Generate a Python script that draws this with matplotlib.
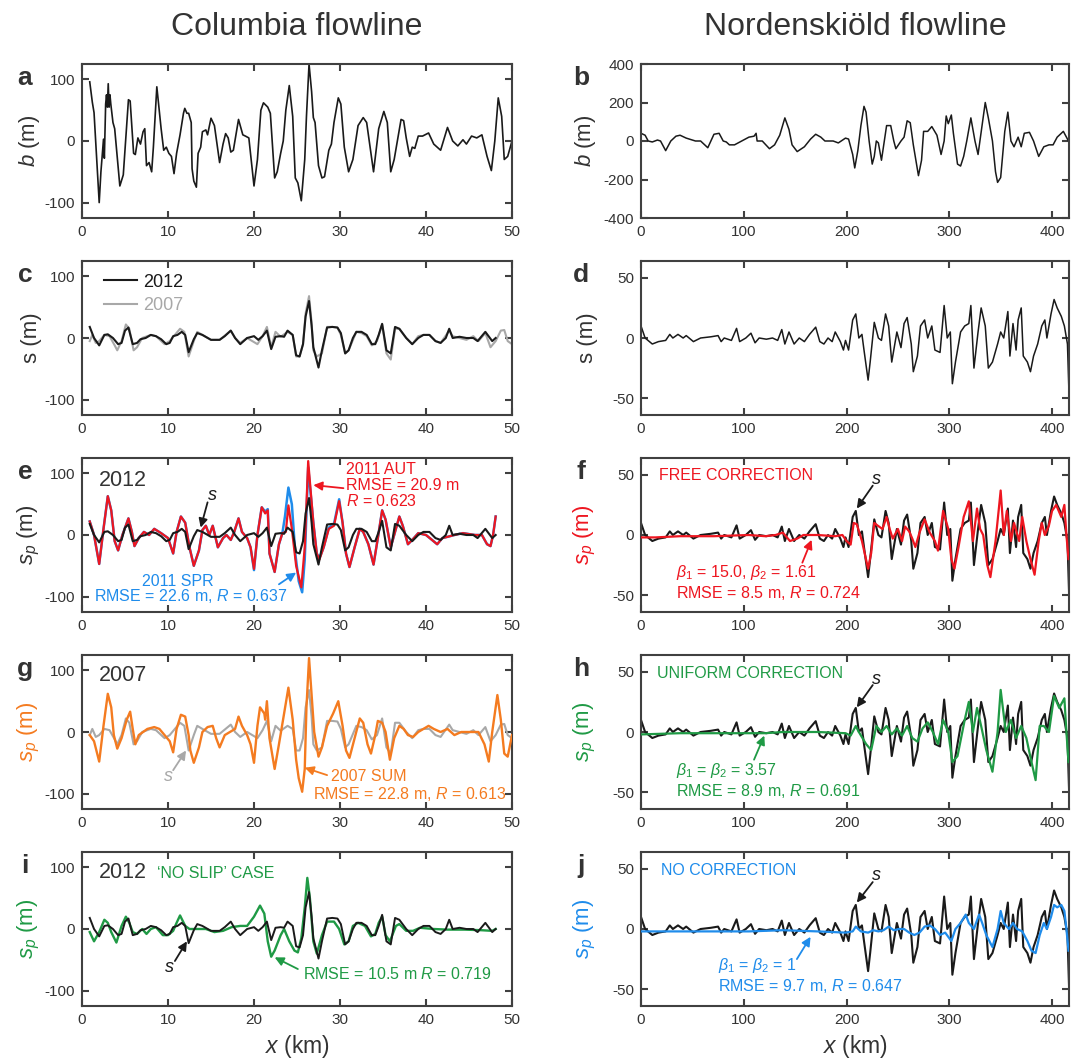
import numpy as np
import matplotlib
matplotlib.use("Agg")
import matplotlib.pyplot as plt

plt.rcParams["font.family"] = ["Liberation Sans", "DejaVu Sans"]
plt.rcParams["mathtext.fontset"] = "custom"
plt.rcParams["mathtext.rm"] = "Liberation Sans"
plt.rcParams["mathtext.it"] = "Liberation Sans:italic"
plt.rcParams["axes.unicode_minus"] = False

# ---- Columbia flowline (x in km) ----
col_bed = [(0.9, 96), (1.2, 63), (1.4, 46), (2.0, -100), (2.2, -50), (2.5, 3), (2.6, -28),
           (2.75, 60), (2.85, 75), (2.95, 55), (3.05, 93), (3.15, 55), (3.25, 75), (3.35, 60),
           (3.6, 30), (3.8, 20), (4.4, -73), (4.8, -55), (5.4, 67), (5.6, 65), (6.0, -20),
           (6.2, -22), (6.5, 5), (6.8, -5), (7.1, 15), (7.3, 20), (7.5, -40), (7.8, -35),
           (8.1, -50), (8.3, -10), (8.7, 88), (9.2, 20), (9.5, -15), (9.8, -10), (10.1, -20),
           (10.4, -25), (10.7, -53), (11.0, -20), (11.4, 10), (11.8, 45), (11.95, 53), (12.2, 45),
           (12.4, 45), (12.7, 30), (12.8, -45), (13.0, -65), (13.3, -75), (13.5, -20), (13.8, -10),
           (14.0, 15), (14.4, 18), (14.6, 10), (15.0, 37), (15.4, 25), (16.0, -35), (16.4, -5),
           (16.7, 12), (17.0, 5), (17.3, -18), (17.6, -15), (18.2, 35), (18.4, 25), (18.7, 10),
           (19.0, 8), (19.4, 5), (20.0, -73), (20.4, -30), (20.8, 50), (21.1, 62), (21.6, 55),
           (21.9, 45), (22.4, -60), (22.7, -50), (23.1, -20), (23.4, 0), (23.7, 50), (24.1, 90),
           (24.5, 40), (24.8, -60), (25.1, -68), (25.5, -97), (25.9, -30), (26.1, 40), (26.4, 125),
           (26.7, 80), (26.9, 38), (27.1, 30), (27.5, -40), (27.9, -60), (28.2, -58), (28.7, -15),
           (29.0, -5), (29.3, 30), (29.8, 70), (30.1, 60), (30.5, -10), (31.0, -50), (31.5, -30),
           (32.1, 25), (32.7, 38), (33.1, 30), (33.9, -50), (34.5, 20), (35.1, 48), (35.5, 30),
           (35.9, -50), (36.3, -30), (37.1, 35), (37.4, 33), (37.7, 5), (38.1, -25), (38.4, -10),
           (38.7, -12), (39.1, 8), (39.6, 8), (40.3, 13), (40.9, -5), (41.7, -15), (42.5, 22),
           (43.1, 0), (43.7, -8), (44.3, 2), (44.7, -5), (45.3, 8), (45.9, 5), (46.5, 10),
           (47.1, -25), (47.6, -48), (48.0, 0), (48.4, 70), (48.8, 40), (49.1, -30), (49.5, -25),
           (50.0, 0)]

col_s2012 = [(0.9, 18), (1.4, 0), (2.0, -12), (2.6, 5), (3.0, 6), (3.6, 0), (4.2, -10), (4.6, -8),
             (5.0, 12), (5.4, 17), (5.9, -10), (6.4, -8), (6.8, -2), (7.4, 0), (8.0, 5), (8.6, 3),
             (9.2, -2), (9.8, -10), (10.2, -8), (10.6, 3), (11.1, 5), (11.6, 10), (12.0, 5),
             (12.4, -23), (13.0, -2), (13.4, 8), (14.0, 5), (15.0, -3), (16.0, -3), (16.6, 3),
             (17.3, 12), (17.8, 0), (18.4, -10), (19.2, 0), (20.0, 3), (20.5, -3), (21.0, 3),
             (21.5, 12), (22.0, -18), (22.5, 2), (23.1, 3), (23.5, 2), (23.9, 12), (24.5, 5),
             (24.9, -28), (25.3, -30), (25.7, -10), (26.0, 35), (26.4, 60), (26.7, 20), (26.9, -15),
             (27.5, -48), (27.9, -20), (28.5, 17), (29.1, 18), (29.7, 17), (30.1, 8), (30.6, -25),
             (31.0, -20), (31.5, 0), (31.9, 10), (32.5, 10), (33.1, 5), (33.7, -10), (34.1, -10),
             (34.5, 5), (34.9, 23), (35.4, -20), (35.9, -25), (36.4, 18), (36.9, 15), (37.7, 0),
             (38.4, -10), (39.1, 0), (39.7, 5), (40.4, 5), (41.1, -5), (41.7, -8), (42.3, 0),
             (42.7, 15), (43.1, 0), (43.9, 2), (44.7, 0), (45.5, 0), (46.0, -5), (46.9, 10),
             (47.7, -5), (48.1, 0)]

col_s2007 = [(0.9, -5), (1.2, 5), (1.6, -8), (2.0, -5), (2.6, 5), (3.2, 3), (3.8, -12), (4.1, -20),
             (4.6, -5), (5.1, 22), (5.5, 15), (6.0, -20), (6.4, -15), (7.0, 0), (8.0, 5), (8.6, 3),
             (9.6, -10), (10.2, -5), (10.8, 5), (11.4, 15), (11.9, 10), (12.4, -30), (13.0, -5),
             (13.4, 10), (14.0, 5), (15.0, -3), (16.0, -3), (17.3, 12), (17.8, 0), (18.4, -8),
             (19.2, 0), (19.8, -5), (20.4, -10), (21.0, 3), (21.5, 18), (22.0, -15), (22.5, 10),
             (23.1, 2), (23.9, 10), (24.5, 5), (24.9, -30), (25.3, -30), (25.7, -10), (26.0, 40),
             (26.4, 68), (26.7, 25), (26.9, -20), (27.3, -30), (27.9, -25), (28.5, 18), (29.1, 18),
             (29.7, 17), (30.1, 5), (30.6, -25), (31.0, -20), (31.9, 10), (32.5, 8), (33.1, 3),
             (33.7, -12), (34.3, -5), (34.9, 22), (35.4, -25), (35.9, -35), (36.4, 15), (36.9, 15),
             (37.7, 0), (38.4, -10), (39.1, 3), (39.7, 5), (40.4, 5), (41.1, -5), (41.7, -8),
             (42.7, 12), (43.1, 3), (43.9, 0), (44.7, -3), (45.5, 3), (46.1, -5), (46.9, 8),
             (47.5, -15), (48.1, -5), (48.7, 12), (49.1, 13), (49.5, -5), (50.0, -10)]

col_aut_2011 = [(0.9, 22), (1.4, 0), (2.0, -47), (2.5, 10), (3.0, 63), (3.4, 40), (3.8, -10),
                (4.2, -25), (4.7, 0), (5.4, 27), (5.8, 5), (6.1, -18), (6.6, -5), (7.2, 5),
                (7.8, 0), (8.4, 10), (9.2, 3), (10.0, -5), (10.6, -30), (11.0, 5), (11.5, 30),
                (12.0, 20), (12.5, -20), (13.0, -50), (13.6, -25), (14.0, 8), (14.4, 15),
                (14.8, 0), (15.2, 15), (15.8, -20), (16.4, -5), (16.8, 0), (17.3, -8), (17.7, 5),
                (18.2, 27), (18.6, 5), (19.2, -5), (19.6, -20), (20.0, -55), (20.4, 0), (20.9, 45),
                (21.3, 35), (21.6, 40), (21.8, -30), (22.4, -60), (22.9, -15), (23.3, 3),
                (23.7, 5), (24.0, 48), (24.4, 10), (24.9, -50), (25.5, -85), (25.9, -20),
                (26.3, 120), (26.9, 20), (27.3, -30), (27.6, -40), (28.1, -20), (28.7, 10),
                (29.3, 15), (29.9, 55), (30.3, 20), (30.7, -30), (31.1, -52), (31.7, -20),
                (32.3, 10), (32.7, 5), (33.3, -15), (33.9, -48), (34.4, -5), (34.9, 40),
                (35.3, 25), (35.9, -20), (36.3, 0), (36.9, 30), (37.3, 15), (37.9, -15),
                (38.4, -8), (39.1, 3), (40.0, 0), (40.7, -8), (41.3, -15), (41.9, -5), (42.5, -3),
                (43.3, 0), (44.3, 3), (45.7, 0), (46.5, 0), (47.1, -15), (47.5, -18), (47.8, 0),
                (48.1, 30)]

col_spr_2011 = [(0.9, 22), (1.4, 0), (2.0, -47), (2.5, 10), (3.0, 63), (3.4, 40), (3.8, -10),
                (4.2, -25), (4.7, 0), (5.4, 27), (5.8, 5), (6.1, -18), (6.6, -5), (7.2, 5),
                (7.8, 0), (8.4, 10), (9.2, 3), (10.0, -5), (10.6, -30), (11.0, 5), (11.5, 30),
                (12.0, 20), (12.5, -20), (13.0, -50), (13.6, -25), (14.0, 8), (14.4, 15),
                (14.8, 0), (15.2, 15), (15.8, -20), (16.4, -5), (16.8, 0), (17.3, -8), (17.7, 5),
                (18.2, 27), (18.6, 5), (19.2, -5), (19.6, -20), (20.0, -57), (20.4, 0), (20.9, 45),
                (21.3, 38), (21.6, 42), (21.8, -30), (22.4, -60), (22.9, -15), (23.3, 3),
                (23.6, 30), (24.0, 77), (24.4, 50), (24.8, -30), (25.2, -75), (25.6, -93),
                (25.9, -40), (26.3, 110), (26.9, 20), (27.3, -30), (27.6, -38), (28.1, -20),
                (28.7, 12), (29.3, 18), (29.9, 58), (30.3, 20), (30.7, -30), (31.1, -52),
                (31.7, -20), (32.3, 10), (32.7, 5), (33.3, -15), (33.9, -48), (34.4, -5),
                (34.9, 40), (35.3, 25), (35.9, -20), (36.3, 0), (36.9, 30), (37.3, 15),
                (37.9, -15), (38.4, -8), (39.1, 3), (40.0, 0), (40.7, -8), (41.3, -15),
                (41.9, -5), (42.5, -3), (43.3, 0), (44.3, 3), (45.7, 0), (46.5, 0), (47.1, -15),
                (47.5, -18), (47.8, 0), (48.1, 30)]

col_sum_2007 = [(0.9, -5), (1.4, -15), (2.0, -48), (2.5, 10), (3.0, 62), (3.4, 40), (3.7, -5),
                (4.1, -27), (4.6, -10), (5.2, 20), (5.6, 33), (5.9, 5), (6.2, -20), (6.6, -5),
                (7.1, 0), (7.6, 5), (8.4, 8), (9.0, 5), (9.6, -5), (10.2, -15), (10.6, -33),
                (11.0, 5), (11.5, 28), (12.0, 25), (12.4, -5), (12.6, -30), (13.0, -50),
                (13.6, -25), (14.0, 0), (14.6, 8), (15.2, 10), (15.6, -10), (16.0, -25),
                (16.6, -5), (17.2, 0), (17.8, 5), (18.2, 25), (18.6, 10), (19.2, -5), (19.6, -20),
                (20.0, -50), (20.4, 10), (20.7, 40), (21.2, 30), (21.3, 20), (21.5, 50),
                (21.8, -10), (22.4, -60), (22.9, -20), (23.5, 30), (24.0, 72), (24.5, 20),
                (24.9, -45), (25.2, -75), (25.6, -97), (25.9, -60), (26.1, 40), (26.4, 120),
                (26.7, 60), (27.0, 0), (27.5, -40), (27.9, -25), (28.5, 10), (29.2, 30),
                (29.8, 50), (30.3, 10), (30.7, -30), (31.1, -42), (31.7, -10), (32.3, 22),
                (32.7, 15), (33.2, -20), (33.6, -35), (34.1, -5), (34.4, 18), (34.9, 15),
                (35.3, 0), (35.8, -45), (36.3, -10), (36.9, 10), (37.4, 5), (37.9, -5),
                (38.5, -8), (39.1, 0), (40.3, 10), (40.9, 5), (41.7, 0), (42.5, 5), (43.3, -5),
                (44.1, 0), (45.3, 0), (46.1, 0), (46.8, -20), (47.3, -48), (47.7, 0), (48.3, 60),
                (48.7, 20), (49.1, -35), (49.5, -40), (50.0, -5)]

col_noslip = [(0.9, -5), (1.4, -20), (2.0, -5), (2.6, 15), (3.0, 10), (3.4, -5), (4.0, -22),
              (4.6, 5), (5.1, 20), (5.5, 10), (5.9, -5), (6.4, -8), (7.0, 0), (7.5, -8), (8.0, 0),
              (8.6, 3), (9.4, -10), (10.0, -10), (10.6, -3), (11.0, 10), (11.4, 22), (12.0, 5),
              (12.5, 0), (13.2, 0), (14.4, 0), (15.4, -5), (16.4, -3), (17.4, 3), (18.4, 5),
              (19.2, 5), (20.0, 20), (20.7, 38), (21.2, 25), (21.6, -20), (22.0, -45), (22.4, -35),
              (23.1, -10), (23.5, 0), (24.1, -20), (24.7, -35), (25.1, -38), (25.5, -15),
              (25.9, 35), (26.2, 83), (26.5, 50), (26.9, -20), (27.3, -40), (27.9, -10),
              (28.5, 12), (29.3, 12), (29.9, 0), (30.5, -25), (31.0, -20), (31.5, 5), (32.1, 10),
              (32.9, 5), (33.6, -12), (34.1, -8), (34.5, 10), (34.9, 20), (35.3, -10),
              (35.8, -20), (36.5, 5), (36.9, 8), (37.7, -3), (38.5, -3), (39.3, 2), (40.9, 0),
              (42.5, -1), (44.5, -1), (46.5, -2), (47.7, -3), (48.1, 0)]

# ---- Nordenskiold flowline (x in km) ----
nor_bed = [(0, 40), (4, 30), (7, 0), (11, -5), (16, 5), (19, 0), (24, -50), (29, 0), (34, 25),
           (38, 30), (44, 15), (53, 0), (58, 0), (65, -35), (71, 35), (76, 40), (80, 0), (83, -5),
           (86, -20), (91, -20), (98, 0), (105, 20), (110, 25), (112, 40), (113, 0), (118, 0),
           (125, -40), (130, -20), (135, 30), (140, 120), (144, 60), (147, -20), (152, -55),
           (159, -30), (165, 10), (170, 35), (175, 20), (179, 0), (187, 0), (192, -10), (199, 15),
           (202, 10), (206, -70), (208, -140), (211, -50), (214, 80), (217, 180), (219, 150),
           (222, 0), (225, -120), (227, -80), (229, 0), (231, -10), (234, -100), (239, 80),
           (243, 80), (246, 0), (248, -40), (253, 0), (256, 20), (259, 105), (262, 95),
           (265, -20), (270, -180), (273, -100), (275, 50), (279, 50), (283, 75), (288, 30),
           (292, -70), (295, 0), (297, 130), (299, 90), (302, 135), (304, 40), (308, -120),
           (311, -130), (314, -80), (317, 0), (321, 120), (325, 0), (328, -70), (335, 200),
           (338, 120), (342, 0), (345, -160), (347, -215), (350, -190), (354, 50), (357, 150),
           (360, 0), (363, -30), (367, 20), (370, -30), (373, 40), (378, 45), (382, 0),
           (387, -80), (392, -30), (397, -20), (401, -20), (405, 20), (411, 50), (416, 0)]

nor_s = [(0, 10), (4, 0), (11, -5), (17, -3), (24, -2), (28, 3), (31, 0), (36, 3), (41, 0),
         (44, 2), (51, -3), (58, 0), (68, 1), (75, 2), (78, -3), (81, 0), (88, -2), (93, 8),
         (96, -3), (102, 0), (107, 4), (111, -4), (115, 0), (122, -1), (128, 0), (133, -2),
         (137, 7), (140, -5), (144, 5), (149, -5), (154, 0), (159, -3), (164, 3), (170, 9),
         (174, -3), (178, -5), (182, 0), (186, -3), (189, 5), (194, -3), (197, -10), (199, -2),
         (202, -10), (206, 15), (209, 20), (212, 0), (215, 3), (217, -10), (221, -35), (223, -20),
         (227, 13), (231, 0), (234, -2), (238, 20), (241, 10), (244, -20), (249, 5), (253, -8),
         (256, 12), (259, 17), (263, -5), (265, -28), (269, -15), (272, 10), (276, 15), (279, 0),
         (283, 10), (286, -10), (291, -12), (295, 27), (298, 0), (301, 5), (303, -38), (306, -20),
         (311, 5), (315, 10), (319, 12), (321, 27), (324, -25), (328, 5), (331, 25), (335, 10),
         (338, -25), (342, -20), (347, -5), (350, 5), (353, 0), (357, 22), (359, -15), (362, 12),
         (365, -10), (367, 15), (370, 25), (372, -15), (376, -20), (379, -28), (382, -15),
         (386, -5), (390, 10), (393, 15), (395, 0), (399, 20), (402, 32), (405, 25), (409, 18),
         (412, 10), (415, -5), (417, -60)]

nor_free = [(0, -2), (14, -2), (38, -1), (71, -1), (105, 0), (121, -1), (131, 0), (138, 2),
            (145, -5), (152, -3), (158, 0), (172, 0), (189, -1), (196, 0), (200, -5), (204, -8),
            (207, 10), (210, 9), (215, -5), (221, -28), (224, -15), (227, 10), (230, 8), (235, 5),
            (239, 15), (242, 5), (245, -3), (250, 5), (254, -5), (257, 7), (261, 3), (264, -3),
            (267, -10), (271, 2), (276, 13), (281, 2), (286, -5), (289, -13), (294, 20), (299, 5),
            (302, -20), (305, -28), (309, -10), (314, 15), (319, 28), (323, -5), (327, 22),
            (330, 5), (333, 0), (337, -25), (340, -35), (345, -5), (348, 20), (350, 37), (353, 0),
            (356, 20), (360, -5), (363, 10), (368, -5), (371, 15), (375, -5), (379, -20),
            (383, -33), (387, -5), (390, 10), (393, 0), (397, 8), (400, 20), (404, 25), (409, 15),
            (412, 25), (414, 0), (416, -20)]

nor_uniform = [(0, -2), (38, -1), (105, -1), (121, -1), (138, 0), (172, 0), (199, -1), (204, -3),
               (209, 5), (212, 0), (219, -10), (224, -15), (229, 5), (234, 0), (239, 5), (244, -2),
               (249, 3), (254, -3), (259, 5), (264, -5), (269, -8), (274, 3), (279, 8), (284, 0),
               (289, -10), (294, 10), (299, 0), (303, -25), (308, -20), (315, 10), (319, 25),
               (323, 0), (327, 20), (331, 5), (336, -15), (342, -33), (347, 0), (350, 35),
               (355, 0), (360, 10), (365, -5), (370, 5), (375, -5), (380, -25), (384, -40),
               (388, 5), (392, 5), (397, 0), (402, 30), (407, 20), (412, 28), (414, 0), (416, -25)]

nor_none = [(0, -2), (38, -2), (105, -2), (138, -1), (172, -2), (199, -3), (206, -2), (209, 2),
            (214, -2), (221, -3), (226, -1), (231, -2), (236, -1), (241, 2), (246, -1), (251, 0),
            (256, 0), (261, -3), (266, -5), (271, -3), (276, 2), (281, 3), (286, 0), (291, -5),
            (296, -3), (302, -10), (306, 0), (311, 5), (316, 12), (319, 5), (324, 0), (329, 12),
            (332, 5), (336, -5), (342, -15), (347, 0), (350, 15), (353, 5), (358, 0), (362, 5),
            (366, 0), (371, -2), (376, -10), (380, -18), (384, -20), (388, -5), (392, 5),
            (395, 0), (399, 10), (402, 20), (405, 18), (409, 20), (412, 15), (414, 0), (416, -18)]

BLACK = "#1a1a1a"
GRAY = "#a8a8a8"
RED = "#ee1620"
BLUE = "#1f8ceb"
ORANGE = "#f47b20"
GREEN = "#1f9a45"
FRAME = "#404040"
TXT = "#333333"
ANN = 11.5  # annotation font size

W, H = 1082, 1061
fig = plt.figure(figsize=(W / 100, H / 100), dpi=100)

row_bottoms = [218, 415, 612, 809, 1006]
ax_h = 154


def make_ax(col, row):
    left, width = (82, 430) if col == 0 else (641, 428)
    b = row_bottoms[row]
    ax = fig.add_axes([left / W, 1 - b / H, width / W, ax_h / H])
    for sp in ax.spines.values():
        sp.set_color(FRAME)
        sp.set_linewidth(1.5)
    ax.tick_params(direction="in", length=5, width=1.5, color=FRAME, top=True, right=True,
                   labelsize=11, labelcolor=TXT, pad=5)
    if col == 0:
        ax.set_xlim(0, 50)
        ax.set_xticks([0, 10, 20, 30, 40, 50])
        ax.set_ylim(-125, 125)
        ax.set_yticks([-100, 0, 100])
        ax.yaxis.set_label_coords(-0.092, 0.5)
    else:
        ax.set_xlim(0, 416.5)
        ax.set_xticks([0, 100, 200, 300, 400])
        ax.set_ylim(-64, 64)
        ax.set_yticks([-50, 0, 50])
        ax.yaxis.set_label_coords(-0.10, 0.5)
    # panel letter
    letter = "abcdefghij"[row * 2 + col]
    lx = 25 if col == 0 else 581
    fig.text(lx / W, 1 - (row_bottoms[row] - ax_h + 21) / H, letter, fontsize=19,
             fontweight="bold", color=TXT, ha="center", va="baseline")
    return ax


def line(ax, data, color, lw, z=2):
    arr = np.array(data, dtype=float)
    ax.plot(arr[:, 0], arr[:, 1], color=color, lw=lw, zorder=z, solid_joinstyle="round")


def arrow(ax, tail, head, color):
    ax.annotate("", xy=head, xytext=tail,
                arrowprops=dict(arrowstyle="-|>", color=color, lw=1.3, mutation_scale=13,
                                shrinkA=0, shrinkB=0))


# titles
fig.text(297 / W, 1 - 35 / H, "Columbia flowline", fontsize=23, color=TXT, ha="center", va="baseline")
fig.text(855 / W, 1 - 35 / H, "Nordenskiöld flowline", fontsize=23, color=TXT, ha="center", va="baseline")

# a
ax = make_ax(0, 0)
line(ax, col_bed, BLACK, 1.2)
ax.set_ylabel("$b$ (m)", fontsize=16, color=TXT)

# b
ax = make_ax(1, 0)
line(ax, nor_bed, BLACK, 1.1)
ax.set_ylim(-400, 400)
ax.set_yticks([-400, -200, 0, 200, 400])
ax.set_ylabel("$b$ (m)", fontsize=16, color=TXT)

# c
ax = make_ax(0, 1)
arr07 = np.array(col_s2007, dtype=float)
arr12 = np.array(col_s2012, dtype=float)
ax.plot(arr12[:, 0], arr12[:, 1], color=BLACK, lw=1.5, label="2012", zorder=3)
ax.plot(arr07[:, 0], arr07[:, 1], color=GRAY, lw=1.5, label="2007", zorder=2)
leg = ax.legend(loc="upper left", frameon=False, fontsize=13, handlelength=1.8,
                handletextpad=0.35, labelspacing=0.35, borderaxespad=0.3,
                bbox_to_anchor=(0.022, 1.0))
for t, c in zip(leg.get_texts(), [BLACK, GRAY]):
    t.set_color(c)
ax.set_ylabel("s (m)", fontsize=16, color=TXT)

# d
ax = make_ax(1, 1)
line(ax, nor_s, BLACK, 1.1)
ax.set_ylabel("s (m)", fontsize=16, color=TXT)

# e
ax = make_ax(0, 2)
line(ax, col_spr_2011, BLUE, 1.8, 2)
line(ax, col_aut_2011, RED, 1.6, 3)
line(ax, col_s2012, BLACK, 1.5, 4)
ax.set_ylabel("$s_p$ (m)", fontsize=16, color=TXT)
ax.text(2.0, 89, "2012", fontsize=15.5, color=TXT, va="center")
ax.text(15.2, 64, "s", fontsize=13, style="italic", color=BLACK, ha="center", va="center")
arrow(ax, (14.6, 53), (13.8, 12), BLACK)
for yy, s in zip([106, 81, 56], ["2011 AUT", "RMSE = 20.9 m", "$R$ = 0.623"]):
    ax.text(30.7, yy, s, fontsize=ANN, color=RED, va="center")
arrow(ax, (30.4, 76), (26.9, 81), RED)
ax.text(7.0, -75, "2011 SPR", fontsize=ANN, color=BLUE, va="center")
ax.text(1.4, -99, "RMSE = 22.6 m, $R$ = 0.637", fontsize=ANN, color=BLUE, va="center")
arrow(ax, (22.9, -80), (24.9, -61), BLUE)

# f
ax = make_ax(1, 2)
line(ax, nor_s, BLACK, 1.5, 2)
line(ax, nor_free, RED, 1.6, 3)
ax.set_ylabel("$s_p$ (m)", fontsize=16, color=RED)
ax.text(17.4, 49.4, "FREE CORRECTION", fontsize=ANN, color=RED, va="center")
ax.text(229, 46, "s", fontsize=13, style="italic", color=BLACK, ha="center", va="center")
arrow(ax, (225.5, 41), (210, 22), BLACK)
ax.text(34, -31, r"$\beta_1$ = 15.0, $\beta_2$ = 1.61", fontsize=ANN, color=RED, va="center")
ax.text(34, -48.5, "RMSE = 8.5 m, $R$ = 0.724", fontsize=ANN, color=RED, va="center")
arrow(ax, (157, -23), (166, -4), RED)

# g
ax = make_ax(0, 3)
line(ax, col_s2007, GRAY, 1.5, 2)
line(ax, col_sum_2007, ORANGE, 1.7, 3)
ax.set_ylabel("$s_p$ (m)", fontsize=16, color=ORANGE)
ax.text(2.0, 92, "2007", fontsize=15.5, color=TXT, va="center")
ax.text(10.0, -72, "s", fontsize=13, style="italic", color=GRAY, ha="center", va="center")
arrow(ax, (10.6, -62), (12.1, -30), GRAY)
arrow(ax, (28.5, -70), (25.9, -58), ORANGE)
ax.text(28.9, -72, "2007 SUM", fontsize=ANN, color=ORANGE, va="center")
ax.text(26.9, -101, "RMSE = 22.8 m, $R$ = 0.613", fontsize=ANN, color=ORANGE, va="center")

# h
ax = make_ax(1, 3)
line(ax, nor_s, BLACK, 1.5, 2)
line(ax, nor_uniform, GREEN, 1.6, 3)
ax.set_ylabel("$s_p$ (m)", fontsize=16, color=GREEN)
ax.text(15.8, 48.7, "UNIFORM CORRECTION", fontsize=ANN, color=GREEN, va="center")
ax.text(229, 44, "s", fontsize=13, style="italic", color=BLACK, ha="center", va="center")
arrow(ax, (225.5, 39), (210, 20.5), BLACK)
ax.text(34, -32, r"$\beta_1$ = $\beta_2$ = 3.57", fontsize=ANN, color=GREEN, va="center")
ax.text(34, -49, "RMSE = 8.9 m, $R$ = 0.691", fontsize=ANN, color=GREEN, va="center")
arrow(ax, (110, -23), (120, -3), GREEN)

# i
ax = make_ax(0, 4)
line(ax, col_noslip, GREEN, 1.7, 2)
line(ax, col_s2012, BLACK, 1.4, 3)
ax.set_ylabel("$s_p$ (m)", fontsize=16, color=GREEN)
ax.text(2.0, 91, "2012", fontsize=15.5, color=TXT, va="center")
ax.text(8.7, 90, "\u2018NO SLIP\u2019 CASE", fontsize=ANN, color=GREEN, va="center")
ax.text(10.2, -62, "s", fontsize=13, style="italic", color=BLACK, ha="center", va="center")
arrow(ax, (10.8, -52), (12.2, -20), BLACK)
arrow(ax, (25.1, -65), (22.4, -46), GREEN)
ax.text(25.7, -73, "RMSE = 10.5 m $R$ = 0.719", fontsize=ANN, color=GREEN, va="center")

# j
ax = make_ax(1, 4)
line(ax, nor_s, BLACK, 1.5, 2)
line(ax, nor_none, BLUE, 1.6, 3)
ax.set_ylabel("$s_p$ (m)", fontsize=16, color=BLUE)
ax.text(19, 48.7, "NO CORRECTION", fontsize=ANN, color=BLUE, va="center")
ax.text(229, 44.5, "s", fontsize=13, style="italic", color=BLACK, ha="center", va="center")
arrow(ax, (225.5, 39), (210, 22), BLACK)
ax.text(74.5, -30.6, r"$\beta_1$ = $\beta_2$ = 1", fontsize=ANN, color=BLUE, va="center")
ax.text(74.5, -47.6, "RMSE = 9.7 m, $R$ = 0.647", fontsize=ANN, color=BLUE, va="center")
arrow(ax, (151.7, -25), (165, -6.5), BLUE)

# x labels
for cx in (297, 855):
    fig.text(cx / W, 1 - 1047 / H, "$x$ (km)", fontsize=16.5, color=TXT, ha="center", va="center")

fig.savefig("out.png", dpi=100)
